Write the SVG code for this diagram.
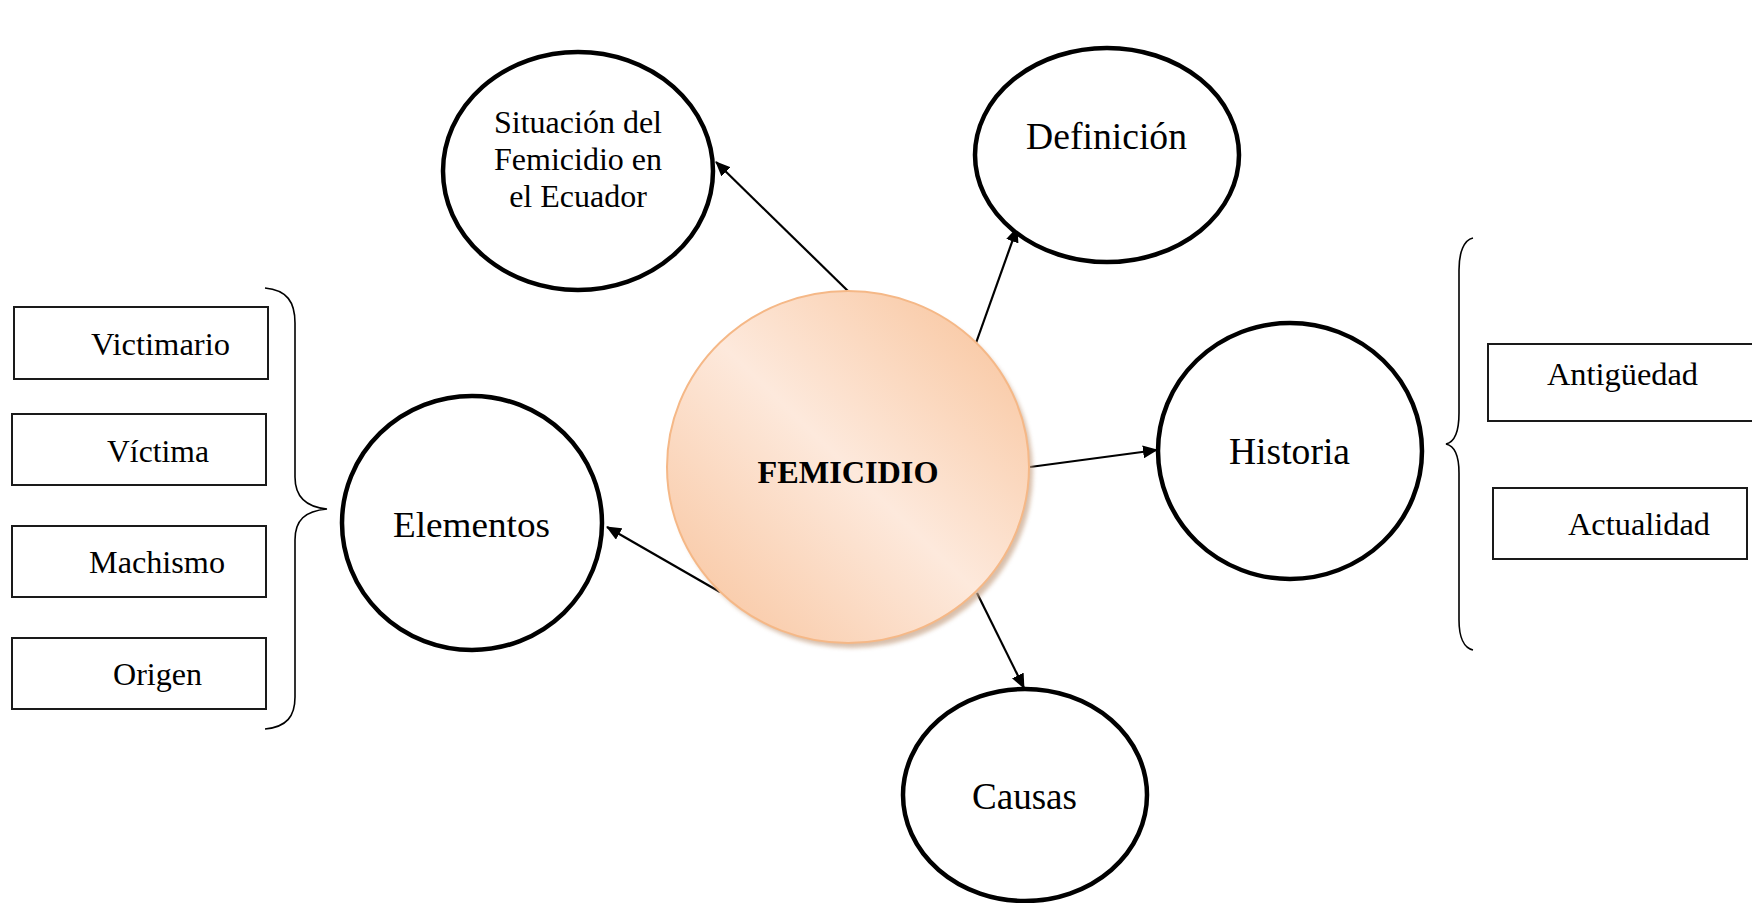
<svg xmlns="http://www.w3.org/2000/svg" width="1752" height="903" viewBox="0 0 1752 903">
<defs>
<linearGradient id="femGrad" x1="0" y1="1" x2="1" y2="0">
<stop offset="0" stop-color="#f8c29a"/>
<stop offset="0.5" stop-color="#fde9dc"/>
<stop offset="1" stop-color="#f8c197"/>
</linearGradient>
<filter id="blur" x="-10%" y="-10%" width="120%" height="120%"><feGaussianBlur stdDeviation="2"/></filter>
<marker id="arr" viewBox="0 0 15 13" refX="14" refY="6.5" markerWidth="15" markerHeight="13" markerUnits="userSpaceOnUse" orient="auto">
<path d="M0,0 L15,6.5 L0,13 z" fill="#000"/>
</marker>
</defs>
<style>
.c{fill:#fff;stroke:#000;stroke-width:4.5}
.b{fill:#fff;stroke:#1a1a1a;stroke-width:2}
.t{font-family:"Liberation Serif","Times New Roman",serif;fill:#000}
.br{fill:none;stroke:#000;stroke-width:1.6}
.cn{stroke:#000;stroke-width:2.2;fill:none;marker-end:url(#arr)}
</style>
<rect width="1752" height="903" fill="#fff"/>

<g id="connectors">
<line class="cn" x1="849" y1="292" x2="716" y2="162"/>
<line class="cn" x1="976" y1="343" x2="1017" y2="228"/>
<line class="cn" x1="1030" y1="467" x2="1157" y2="450"/>
<line class="cn" x1="977" y1="593" x2="1024" y2="688"/>
<line class="cn" x1="720" y1="592" x2="607" y2="527"/>
</g>

<g id="femicidio">
<ellipse cx="852" cy="472" rx="181" ry="176" fill="#c8a488" opacity="0.7" filter="url(#blur)"/>
<ellipse cx="848" cy="467" rx="181" ry="176" fill="url(#femGrad)" stroke="#f5b887" stroke-width="2"/>
<text class="t" x="848" y="483" font-size="32" font-weight="bold" text-anchor="middle" textLength="181" lengthAdjust="spacingAndGlyphs">FEMICIDIO</text>
</g>

<g id="situacion">
<ellipse class="c" cx="578" cy="171" rx="135" ry="119"/>
<text class="t" x="578" y="133" font-size="32" text-anchor="middle">Situación del</text>
<text class="t" x="578" y="170" font-size="32" text-anchor="middle">Femicidio en</text>
<text class="t" x="578" y="207" font-size="32" text-anchor="middle">el Ecuador</text>
</g>

<g id="definicion">
<ellipse class="c" cx="1107" cy="155" rx="132" ry="107"/>
<text class="t" x="1106.5" y="149" font-size="37" text-anchor="middle" textLength="161" lengthAdjust="spacingAndGlyphs">Definición</text>
</g>

<g id="historia">
<ellipse class="c" cx="1290" cy="451" rx="132" ry="128"/>
<text class="t" x="1289.5" y="464" font-size="37" text-anchor="middle" textLength="121" lengthAdjust="spacingAndGlyphs">Historia</text>
</g>

<g id="causas">
<ellipse class="c" cx="1025" cy="795" rx="122" ry="106"/>
<text class="t" x="1024.5" y="809" font-size="37" text-anchor="middle" textLength="105" lengthAdjust="spacingAndGlyphs">Causas</text>
</g>

<g id="elementos">
<ellipse class="c" cx="472" cy="523" rx="130" ry="127"/>
<text class="t" x="471.5" y="537" font-size="36" text-anchor="middle" textLength="157" lengthAdjust="spacingAndGlyphs">Elementos</text>
</g>

<g id="victimario">
<rect class="b" x="14" y="307" width="254" height="72"/>
<text class="t" x="160.5" y="355" font-size="32" text-anchor="middle" textLength="139" lengthAdjust="spacingAndGlyphs">Victimario</text>
</g>
<g id="victima">
<rect class="b" x="12" y="414" width="254" height="71"/>
<text class="t" x="158" y="462" font-size="32" text-anchor="middle" textLength="102" lengthAdjust="spacingAndGlyphs">Víctima</text>
</g>
<g id="machismo">
<rect class="b" x="12" y="526" width="254" height="71"/>
<text class="t" x="157" y="573" font-size="32" text-anchor="middle" textLength="136" lengthAdjust="spacingAndGlyphs">Machismo</text>
</g>
<g id="origen">
<rect class="b" x="12" y="638" width="254" height="71"/>
<text class="t" x="157.5" y="685" font-size="32" text-anchor="middle" textLength="89" lengthAdjust="spacingAndGlyphs">Origen</text>
</g>

<g id="antiguedad">
<rect class="b" x="1488" y="344" width="280" height="77"/>
<text class="t" x="1622.5" y="385" font-size="32" text-anchor="middle" textLength="151" lengthAdjust="spacingAndGlyphs">Antigüedad</text>
</g>
<g id="actualidad">
<rect class="b" x="1493" y="488" width="254" height="71"/>
<text class="t" x="1639" y="535" font-size="32" text-anchor="middle" textLength="142" lengthAdjust="spacingAndGlyphs">Actualidad</text>
</g>

<g id="braces">
<path class="br" d="M265,288 C287,290 295,302 295,323 L295,477 C295,496 305,507 327,509 C305,511 295,520 295,540 L295,697 C295,716 287,727 265,729"/>
<path class="br" d="M1473,238 C1464,240 1459,252 1459,270 L1459,413 C1459,432 1455,442 1446,444 C1455,446 1459,456 1459,473 L1459,620 C1459,637 1464,648 1473,650"/>
</g>
</svg>
